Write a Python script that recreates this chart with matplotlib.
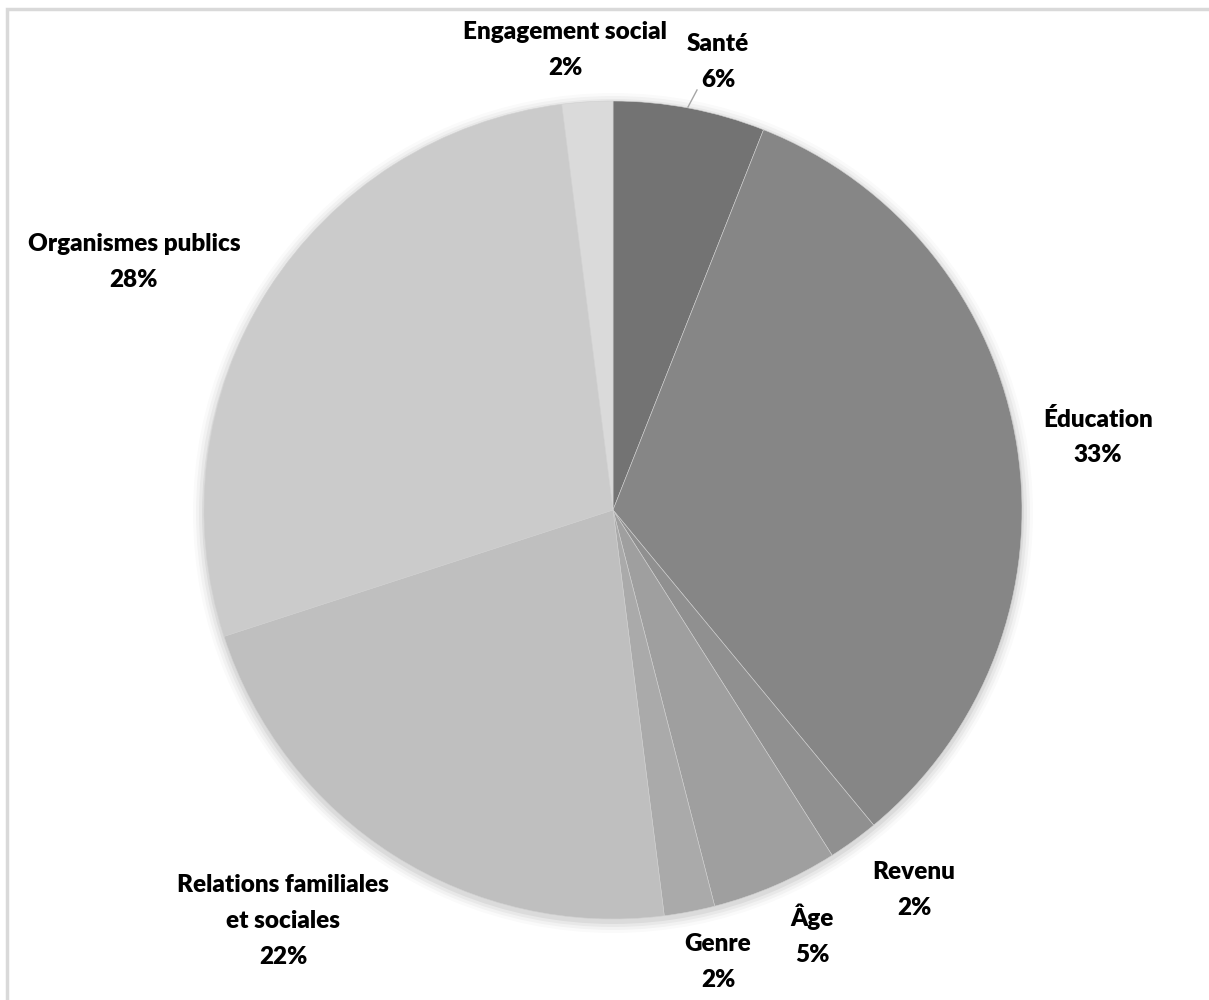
import matplotlib.pyplot as plt
from matplotlib.patches import Rectangle

# données (sens horaire depuis midi)
categories = ['Santé', 'Éducation', 'Revenu', 'Âge', 'Genre',
              'Relations familiales\net sociales', 'Organismes publics', 'Engagement social']
values = [6, 33, 2, 5, 2, 22, 28, 2]
colors = ['#737373', '#868686', '#909090', '#9f9f9f', '#aaaaaa',
          '#bfbfbf', '#cbcbcb', '#dadada']

# positions des étiquettes (pixels, origine en haut à gauche)
label_pos = [(718, 62), (1098, 437), (914, 890), (812, 935), (718, 962),
             (283, 921), (134, 262), (565, 50)]

W, H = 1209, 1000
fig = plt.figure(figsize=(W / 100, H / 100), dpi=100)
ax = fig.add_axes([0, 0, 1, 1])

# cadre gris clair
ax.add_patch(Rectangle((7, -50), W + 50, H - 9 + 50, fill=False,
                       edgecolor='#d9d9d9', linewidth=2.5))

cx, cy, r = 613, H - 510, 409

# ombre légère
for k, a in enumerate([0.05, 0.04, 0.03, 0.02]):
    ax.pie([1], colors=['black'], radius=r + 2 + 3 * k, center=(cx, cy - 3),
           wedgeprops=dict(alpha=a, linewidth=0), frame=True)

wedges, _ = ax.pie(values, colors=colors, startangle=90, counterclock=False,
                   radius=r, center=(cx, cy), frame=True,
                   wedgeprops=dict(edgecolor='#d0d0d0', linewidth=0.4))
ax.set_xlim(0, W)
ax.set_ylim(0, H)
ax.set_aspect('equal')
ax.axis('off')

for name, v, (px, py) in zip(categories, values, label_pos):
    ax.text(px, H - py, f'{name}\n{v}%', ha='center', va='center',
            fontsize=17.5, fontweight='heavy', family='Lato',
            linespacing=1.75, color='black')

# ligne de repère pour Santé
ax.plot([688, 697], [H - 107, H - 90], color='#a6a6a6', linewidth=1)

fig.savefig('out.png', dpi=100)
